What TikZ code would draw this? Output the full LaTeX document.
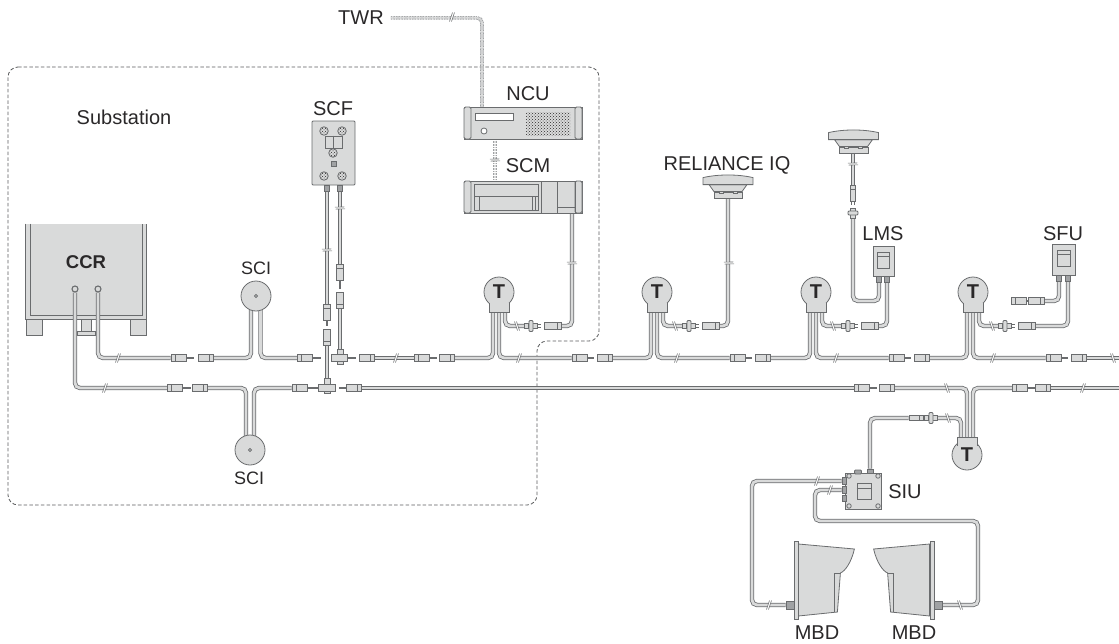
\documentclass[tikz,border=0pt]{standalone}
\usepackage{fontspec}
\setmainfont{Liberation Sans}
\usetikzlibrary{patterns}
\pgfdeclarelayer{back}
\pgfsetlayers{back,main}
\definecolor{inkc}{HTML}{2A2829}
\definecolor{edgec}{HTML}{6A6C6E}
\definecolor{bodyc}{HTML}{D9DADA}
\definecolor{darkc}{HTML}{A0A2A4}
\begin{document}
\begin{tikzpicture}[
    x=1pt, y=-1pt,
    tag/.style={font=\fontsize{20}{24}\selectfont, text=inkc, inner sep=0pt, yshift=-0.8pt},
    smalltag/.style={font=\fontsize{18}{22}\selectfont, text=inkc, inner sep=0pt},
    device/.style={rectangle, draw=edgec, fill=bodyc, line width=0.8pt, inner sep=0pt},
    panel/.style={device, fill=none, line width=0.7pt},
    cable/.style={draw=edgec, line width=0.8pt, double=bodyc, double distance=2.8pt, rounded corners=5pt},
    finecable/.style={draw=darkc, line width=0.9pt, dash pattern=on 1pt off 0.6pt, double=bodyc, double distance=1.8pt, rounded corners=5pt},
    pinline/.style={draw=edgec, line width=1.3pt},
    zone/.style={draw=edgec!85!black, line width=0.8pt, dash pattern=on 3.5pt off 2.2pt, rounded corners=10pt},
    plug/.style={device, minimum width=15, minimum height=6.5, path picture={
        \draw[edgec, line width=0.6pt] ([xshift=4pt]path picture bounding box.north west) -- ([xshift=4pt]path picture bounding box.south west);}},
    socket/.style={device, minimum width=15, minimum height=6.5, path picture={
        \draw[edgec, line width=0.6pt] ([xshift=-4pt]path picture bounding box.north east) -- ([xshift=-4pt]path picture bounding box.south east);}},
    vplug/.style={device, minimum width=6.5, minimum height=16, path picture={
        \draw[edgec, line width=0.6pt] ([yshift=-4pt]path picture bounding box.north west) -- ([yshift=-4pt]path picture bounding box.north east);}},
    vsocket/.style={device, minimum width=6.5, minimum height=16, path picture={
        \draw[edgec, line width=0.6pt] ([yshift=4pt]path picture bounding box.south west) -- ([yshift=4pt]path picture bounding box.south east);}},
    flangeplate/.style={device, minimum width=4, minimum height=11, rounded corners=1pt},
    gland/.style={device, fill=darkc, minimum width=5, minimum height=6},
    screw/.style={device, circle, minimum size=8.5, preaction={fill=bodyc}, pattern=crosshatch dots, pattern color=inkc},
    hub/.style={device, circle, fill=white, minimum size=3},
    lug/.style={device, circle, line width=1.1pt, minimum size=6},
    round/.style={device, circle, minimum size=30},
    tee/.style={device, circle, minimum size=30, font=\fontsize{20}{24}\selectfont\bfseries, text=inkc},
    cut/.pic={
        \fill[white] (-2.5,4.5) -- (0.5,-4.5) -- (2.5,-4.5) -- (-0.5,4.5) -- cycle;
        \draw[edgec, line width=0.6pt] (-2.5,4.5) -- (0.5,-4.5) (-0.5,4.5) -- (2.5,-4.5);},
    antennatop/.pic={
        \draw[device] (-19,-7) -- (19,-7) -- (14,0) -- (-14,0) -- cycle;
        \draw[device] (-25,-7) -- (-25,-14) .. controls (-10,-17.5) and (10,-17.5) .. (25,-14) -- (25,-7) -- cycle;
        \draw[device] (-9,0) rectangle (-5,2) (5,0) rectangle (9,2);},
    horn/.pic={
        \draw[device] (0,-36) -- (56,-31) .. controls (53,-18) and (47,-9) .. (42,-7) -- (39,32) -- (0,36) -- cycle;
        \draw[edgec, line width=0.7pt] (42,-7) -- (36,-7) -- (36,32);}
]
\useasboundingbox (0,0) rectangle (1119,643);

% Labels
\node[tag] (subst) at (124,117) {Substation};
\node[tag] (twr) at (361,17) {TWR};
\node[tag] (scflabel) at (333,108) {SCF};
\node[tag] (ncul) at (528,93) {NCU};
\node[tag] (scml) at (528,165) {SCM};
\node[tag] (iql) at (727,164.5) {RELIANCE IQ};
\node[tag] (lmsl) at (883,233) {LMS};
\node[tag] (sful) at (1063,233) {SFU};
\node[tag] (siul) at (905,491) {SIU};
\node[tag] (mbdal) at (817,632) {MBD};
\node[tag] (mbdbl) at (914,632) {MBD};
\node[smalltag] (sciatag) at (256,268) {SCI};
\node[smalltag] (scibtag) at (249,478) {SCI};

% CCR
\node[smalltag, font=\fontsize{18.5}{22}\selectfont\bfseries] (ccrl) at (86,262) {CCR};
\node[lug] (luga) at (75,289) {};
\node[lug] (lugb) at (98,289) {};

% SCI
\node[round] (scia) at (256,296) {};
\node[hub] (hubA) at (scia) {};
\node[round] (scib) at (250,450) {};
\node[hub] (hubB) at (scib) {};
\coordinate (scia-l) at (251,305);
\coordinate (scia-r) at (260.5,305);
\coordinate (scib-l) at (246,440);
\coordinate (scib-r) at (254,440);

% SCF
\node[device, rounded corners=1pt, minimum width=43, minimum height=64] (scf) at (333.5,153) {};
\foreach \x/\y in {324/131,342/131,333/153,324/176,342/176}
    \node[screw] at (\x,\y) {};
\node[panel, minimum width=17, minimum height=12] (scfwin) at (333.5,142) {};
\draw[edgec, line width=0.6pt] (scfwin.north) -- (scfwin.south);
\node[panel, fill=darkc, minimum width=5, minimum height=5] (scfmark) at (333.5,164) {};
\node[gland] (scfa) at (327,188) {};
\node[gland] (scfb) at (340,188) {};

% NCU and SCM
\node[device, minimum width=118, minimum height=32] (ncu) at (523,123) {};
\node[device, minimum width=118, minimum height=32] (scm) at (523,197) {};
\foreach \x in {467.5,578.5}{
    \node[device, rounded corners=1.5pt, minimum width=7, minimum height=32] at (\x,123) {};
    \node[device, rounded corners=1.5pt, minimum width=7, minimum height=32] at (\x,197) {};
}
\node[device, fill=white, minimum width=38, minimum height=7] (ncuslot) at (494,116.5) {};
\node[hub, minimum size=6] (ncubtn) at (484,131) {};
\node[rectangle, minimum width=44, minimum height=23, pattern=crosshatch dots, pattern color=inkc] (ncuvent) at (548,123.5) {};
\node[panel, minimum width=64, minimum height=26] (scmbay) at (506,197) {};
\draw[edgec, line width=0.7pt] (474,196) -- (538,196) (479,196) -- (479,210) (532,196) -- (532,210) (535,196) -- (535,210);
\draw[edgec, line width=0.7pt] (541,181) -- (541,213) (557,181) -- (557,213) (575,181) -- (575,213) (557,207) -- (575,207);
\coordinate (ncutop) at (482,107);
\coordinate (ncubot) at (495,139);
\coordinate (scmtop) at (495,181);
\coordinate (scmport) at (572,213);

% Tap units
\foreach \c/\i in {499/1,657/2,816/3,973/4}{
    \node[tee] (tee\i) at (\c,292) {T};
    \draw[device, draw=none] (\c-10,303) rectangle (\c+10,312);
    \draw[edgec, line width=0.8pt] (\c-10,303) |- (\c+10,312) -- (\c+10,303);
    \coordinate (tee\i-l) at (\c-6,310);
    \coordinate (tee\i-m) at (\c,310);
    \coordinate (tee\i-r) at (\c+6,310);
    \node[plug] (mp\i) at (\c+80.5,358) {};
    \draw[pinline] (mp\i.east) -- ++(7,0);
    \node[socket] (ms\i) at (\c+106,358) {};
    \node[plug, minimum width=13, minimum height=5.5] (fl\i) at (\c+32,326) {};
    \node[flangeplate] at (fl\i) {};
    \draw[pinline, line width=0.7pt] ([yshift=1.3pt]fl\i.east) -- ++(3.5,0) ([yshift=-1.3pt]fl\i.east) -- ++(3.5,0);
    \node[socket, minimum width=17] (fs\i) at (\c+54,326) {};
}
\node[tee] (tee5) at (967,455) {T};
\draw[device, draw=none] (957,437) rectangle (977,446);
\draw[edgec, line width=0.8pt] (957,446) |- (977,437) -- (977,446);
\coordinate (tee5-l) at (961,439);
\coordinate (tee5-m) at (967,439);
\coordinate (tee5-r) at (973,439);

% Upper line connectors
\node[plug] (pa) at (178.5,358) {};
\draw[pinline] (pa.east) -- ++(8,0);
\node[socket] (sa) at (205.5,358) {};
\node[plug] (pb) at (305,358) {};
\draw[pinline] (pb.east) -- ++(8,0);
\node[device, minimum width=6, minimum height=15] (jav) at (340,356.5) {};
\node[device, minimum width=16, minimum height=6.5] (ja) at (339,358) {};
\draw[pinline] (ja.east) -- ++(9,0);
\node[socket] (sb) at (367,358) {};
\node[plug] (pc) at (422,358) {};
\draw[pinline] (pc.east) -- ++(7,0);
\node[socket] (sc) at (446.5,358) {};

% Lower line connectors
\node[plug] (pd) at (175,388) {};
\draw[pinline] (pd.east) -- ++(8,0);
\node[socket] (sd) at (200,388) {};
\node[plug] (pe) at (299.5,388) {};
\draw[pinline] (pe.east) -- ++(11,0);
\node[device, minimum width=6, minimum height=15] (jbv) at (327,386) {};
\node[device, minimum width=17, minimum height=6.5] (jb) at (327,388) {};
\draw[pinline] ([xshift=3pt]jb.east) -- ++(7,0);
\node[socket] (se) at (353.5,388) {};
\node[plug] (pf) at (861.5,388) {};
\draw[pinline] (pf.east) -- ++(8,0);
\node[socket] (sf) at (886.5,388) {};
\node[plug] (pg) at (1020,388) {};
\draw[pinline] (pg.east) -- ++(7,0);
\node[socket] (sg) at (1042.5,388) {};
\coordinate (edgeu) at (1119,358);
\coordinate (edgel) at (1119,388);

% Riser connectors
\node[vplug] (pv) at (327,312) {};
\draw[pinline] (pv.south) -- ++(0,6);
\node[vsocket] (sv) at (327,337) {};
\node[vplug] (pw) at (340,272.5) {};
\draw[pinline] (pw.south) -- ++(0,8);
\node[vsocket] (sw) at (340,300) {};

% Antennas
\node[device, minimum width=28, minimum height=6] (anta) at (728,195) {};
\pic at (anta.north) {antennatop};
\node[device, minimum width=29, minimum height=6] (antb) at (853.5,150) {};
\pic at (antb.north) {antennatop};
\node[vplug, minimum width=5.5] (pz) at (853,193) {};
\draw[pinline, line width=0.7pt] ([xshift=1.3pt]pz.south) -- ++(0,4) ([xshift=-1.3pt]pz.south) -- ++(0,4);
\node[device, minimum width=5, minimum height=10] (flzb) at (853,213) {};
\node[device, rounded corners=1pt, minimum width=10, minimum height=4] (flz) at (853,213) {};
\coordinate (lmsdrop) at (866,301);

% LMS and SFU
\node[device, minimum width=21, minimum height=30] (lms) at (883.5,261) {};
\node[panel, minimum width=12, minimum height=16] (lmswin) at (883,260) {};
\draw[edgec, line width=0.6pt] (lmswin.west |- 0,256) -- (lmswin.east |- 0,256);
\node[gland] (lmsa) at (879,279) {};
\node[gland] (lmsb) at (887,279) {};
\node[device, minimum width=23, minimum height=31] (sfu) at (1063.5,259.5) {};
\node[panel, minimum width=13, minimum height=16] (sfuwin) at (1063.5,258) {};
\draw[edgec, line width=0.6pt] (sfuwin.west |- 0,254) -- (sfuwin.east |- 0,254);
\node[gland] (sfua) at (1059,278) {};
\node[gland] (sfub) at (1068,278) {};
\node[socket, minimum width=16] (sfus) at (1036,301) {};
\node[plug, minimum width=15] (sfup) at (1019,301) {};
\draw[pinline] (sfup.east) -- (sfus.west);

% SIU
\node[device, minimum width=36, minimum height=36] (siu) at (863.5,491) {};
\foreach \x/\y in {849/476,878/476,849/506,878/506}
    \node[hub, fill=bodyc, minimum size=4.5] at (\x,\y) {};
\node[panel, minimum width=14, minimum height=16] (siuwin) at (864,491) {};
\draw[edgec, line width=0.6pt] (siuwin.west |- 0,488) -- (siuwin.east |- 0,488);
\node[gland, minimum width=7, minimum height=4, rounded corners=1pt] (siut) at (858,472) {};
\node[gland, minimum width=6, minimum height=4] (siuc) at (870,471) {};
\node[gland, minimum width=4, minimum height=7] (siua) at (844,481) {};
\node[gland, minimum width=4, minimum height=7] (siub) at (844,490) {};
\node[gland, minimum width=4, minimum height=6] (siud) at (844,498) {};
\node[plug, minimum width=13, minimum height=5.5] (flt) at (931,418) {};
\node[flangeplate] at (flt) {};
\draw[pinline, line width=0.7pt] (flt.west) -- ++(-4,0);
\node[socket, minimum width=14, minimum height=5.5] (st) at (916,418) {};
\coordinate (spanl) at (815,505);
\coordinate (spanm) at (900,521);
\coordinate (spanr) at (978,560);
\coordinate (dropl) at (752,540);

% MBD
\node[device, minimum width=4, minimum height=78] (mbda) at (796,580) {};
\node[device, minimum width=4, minimum height=78] (mbdb) at (932,580) {};
\pic at (mbda.east) {horn};
\pic[xscale=-1] at (mbdb.west) {horn};
\node[gland, minimum width=8, minimum height=8] (mbdag) at (790,605) {};
\node[gland, minimum width=8, minimum height=8] (mbdbg) at (938,605) {};

% Cables
\begin{pgfonlayer}{back}
\node[device, draw=none, minimum width=120, minimum height=95] (ccr) at (86,271.5) {};
\node[device, minimum width=16, minimum height=16] (foota) at (34,327) {};
\node[device, minimum width=16, minimum height=16] (footb) at (138,327) {};
\node[device, minimum width=10, minimum height=12] (footc) at (86,325) {};
\node[device, minimum width=18, minimum height=4] (footd) at (86,333) {};
\draw[edgec, line width=0.8pt] (ccr.north west) -- (ccr.south west) -- (ccr.south east) -- (ccr.north east);
\draw[edgec, line width=0.8pt] ([xshift=4.5pt]ccr.north west) -- ([shift={(4.5pt,4pt)}]ccr.south west) -- ([shift={(-4.5pt,4pt)}]ccr.south east) -- ([xshift=-4.5pt]ccr.north east);
\draw[zone] (8,67) -- (599,67) -- (599,341) -- (537,341) -- (537,505) -- (8,505) -- cycle;
\draw[cable] (lugb) |- (pa);
\draw[cable] (sa) -| (scia-l);
\draw[cable] (scia-r) |- (pb);
\draw[cable] (sb) -- (pc);
\draw[cable] (sc) -| (tee1-l);
\draw[cable] (luga) |- (pd);
\draw[cable] (sd) -| (scib-l);
\draw[cable] (scib-r) |- (pe);
\draw[cable] (se) -- (pf);
\draw[cable] (sf) -| (tee5-m);
\draw[cable] (tee5-r) |- (pg);
\draw[cable] (sg) -- (edgel);
\foreach \i in {1,...,4}{
    \draw[cable] (tee\i-m) |- (mp\i);
    \draw[cable] (tee\i-r) |- (fl\i);
}
\foreach \i/\k in {1/2,2/3,3/4}
    \draw[cable] (ms\i) -| (tee\k-l);
\draw[cable] (ms4) -- (edgeu);
\draw[cable] (scfa) -- (pv);
\draw[cable] (sv) -- (jb);
\draw[cable] (scfb) -- (pw);
\draw[cable] (sw) -- (jav);
\draw[cable] (fs1) -| (scmport);
\draw[cable] (fs2) -| (anta.south);
\draw[cable] (fs3) -| (lmsb);
\draw[cable] (fs4) -| (sfub);
\draw[cable, double distance=2.2pt] (antb.south -| pz) -- (pz);
\draw[cable] (flz) |- (lmsdrop) -| (lmsa);
\draw[cable] (sfua) |- (sfus);
\draw[cable] (tee5-l) |- (flt);
\draw[cable] (st) -| (siuc);
\draw[cable] (siua) -| (dropl) |- (mbdag);
\draw[cable] (siub) -| (spanl) |- (spanm) -| (spanr) |- (mbdbg);
\draw[finecable] ([xshift=7pt]twr.east) -| (ncutop);
\draw[finecable] (ncubot) -- (scmtop);
\end{pgfonlayer}

% Cable breaks
\foreach \x/\y in {118/358,396/358,519/358,677/358,836/358,993/358,105/388,1083/388,817/481,830/490,769/605,452/17}
    \pic at (\x,\y) {cut};
\foreach \x/\y in {1113/358,947/388,517/326,675/326,833/326,992/326,948/418,960/605}
    \pic[xscale=-1] at (\x,\y) {cut};
\foreach \x/\y in {327/250,340/208,495/160,572/263,729/263,853/164}
    \pic[rotate=-70] at (\x,\y) {cut};
\end{tikzpicture}
\end{document}
